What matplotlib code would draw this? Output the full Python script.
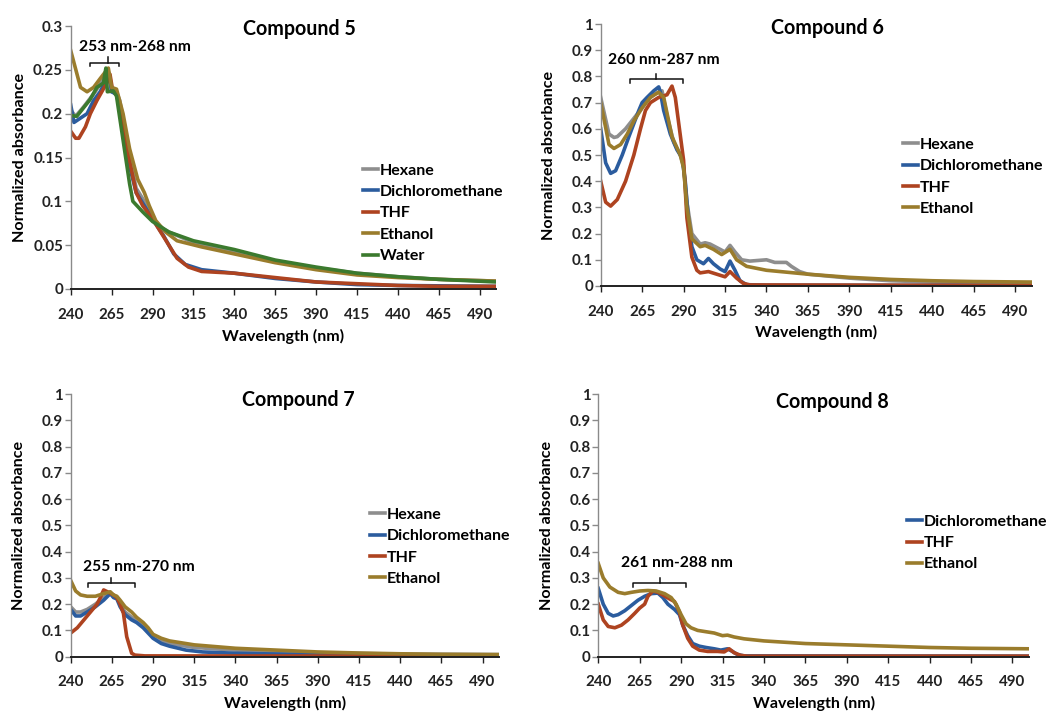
import matplotlib
matplotlib.use("Agg")
import matplotlib.pyplot as plt

plt.rcParams['font.family'] = ['Lato', 'DejaVu Sans']
plt.rcParams['font.weight'] = 'bold'

# ---------------- Data ----------------
# Compound 5
c5_hex_x = [240, 243, 248, 255, 260, 263, 265, 268, 270, 275, 280, 285, 290, 295, 300, 315, 340, 365, 390, 415, 440, 465, 500]
c5_hex_y = [0.204, 0.197, 0.208, 0.225, 0.240, 0.248, 0.225, 0.225, 0.215, 0.160, 0.115, 0.100, 0.080, 0.070, 0.065, 0.053, 0.043, 0.032, 0.024, 0.018, 0.014, 0.011, 0.009]
c5_dcm_x = [240, 242, 250, 254, 258, 262, 263.5, 265, 268, 272, 276, 280, 285, 290, 297, 303, 310, 320, 340, 365, 390, 415, 440, 500]
c5_dcm_y = [0.210, 0.190, 0.200, 0.215, 0.225, 0.240, 0.245, 0.225, 0.222, 0.190, 0.140, 0.110, 0.095, 0.080, 0.060, 0.040, 0.028, 0.022, 0.018, 0.012, 0.008, 0.005, 0.004, 0.003]
c5_thf_x = [240, 243, 245, 249, 252, 256, 259, 262, 264, 265.5, 268, 271, 275, 280, 284, 290, 295, 300, 305, 312, 320, 340, 365, 390, 415, 440, 465, 500]
c5_thf_y = [0.180, 0.172, 0.172, 0.185, 0.200, 0.215, 0.225, 0.235, 0.245, 0.228, 0.225, 0.200, 0.155, 0.110, 0.095, 0.080, 0.065, 0.050, 0.035, 0.025, 0.020, 0.018, 0.013, 0.008, 0.006, 0.004, 0.003, 0.003]
c5_eth_x = [240, 246, 250, 254, 258, 263, 265, 268, 272, 276, 281, 285, 288, 292, 298, 305, 320, 340, 365, 390, 415, 440, 465, 500]
c5_eth_y = [0.272, 0.230, 0.225, 0.230, 0.240, 0.252, 0.230, 0.228, 0.200, 0.160, 0.125, 0.110, 0.095, 0.078, 0.065, 0.055, 0.048, 0.040, 0.030, 0.022, 0.016, 0.013, 0.011, 0.009]
c5_wat_x = [240, 243.7, 251.8, 256, 260, 261.5, 262.4, 266, 268, 272, 276, 278, 284, 290, 300, 315, 340, 365, 390, 415, 440, 465, 500]
c5_wat_y = [0.198, 0.197, 0.216, 0.230, 0.235, 0.252, 0.225, 0.226, 0.220, 0.170, 0.120, 0.100, 0.088, 0.077, 0.065, 0.055, 0.045, 0.033, 0.025, 0.018, 0.014, 0.011, 0.008]

# Compound 6
c6_hex_x = [240, 245, 248, 250, 255, 260, 265, 268, 272, 275, 277, 280, 284, 288, 290, 292, 295, 300, 303, 306, 312, 315, 318, 321, 325, 330, 340, 345, 352, 355, 360, 365, 390, 415, 440, 465, 500]
c6_hex_y = [0.720, 0.580, 0.567, 0.570, 0.600, 0.640, 0.680, 0.710, 0.730, 0.740, 0.745, 0.650, 0.550, 0.500, 0.460, 0.320, 0.200, 0.160, 0.165, 0.160, 0.140, 0.130, 0.155, 0.130, 0.100, 0.095, 0.100, 0.090, 0.090, 0.075, 0.055, 0.045, 0.030, 0.020, 0.015, 0.012, 0.010]
c6_dcm_x = [240, 243, 246, 249, 253, 257, 260, 263, 265, 268, 272, 275, 276, 278, 282, 286, 289, 291, 293, 295, 298, 302, 305, 308, 312, 315, 318, 321, 324, 328, 340, 500]
c6_dcm_y = [0.600, 0.470, 0.430, 0.440, 0.500, 0.570, 0.620, 0.670, 0.700, 0.720, 0.745, 0.760, 0.740, 0.670, 0.580, 0.520, 0.490, 0.400, 0.250, 0.150, 0.100, 0.085, 0.105, 0.085, 0.065, 0.055, 0.095, 0.060, 0.020, 0.005, 0.003, 0.002]
c6_thf_x = [240, 243, 246, 250, 255, 260, 264, 267, 270, 275, 280, 283, 285, 287.5, 290, 292, 295, 298, 300, 305, 310, 315, 318, 322, 326, 330, 500]
c6_thf_y = [0.400, 0.320, 0.305, 0.330, 0.400, 0.500, 0.600, 0.670, 0.700, 0.720, 0.730, 0.763, 0.720, 0.600, 0.480, 0.260, 0.110, 0.060, 0.050, 0.055, 0.045, 0.035, 0.055, 0.030, 0.010, 0.004, 0.002]
c6_eth_x = [240, 245, 248, 252, 256, 260, 265, 270, 275, 278, 283, 288, 290, 292, 295, 300, 303, 308, 313, 318, 322, 328, 340, 365, 390, 415, 440, 465, 500]
c6_eth_y = [0.700, 0.540, 0.525, 0.540, 0.580, 0.630, 0.680, 0.720, 0.740, 0.720, 0.570, 0.500, 0.450, 0.300, 0.180, 0.150, 0.155, 0.140, 0.120, 0.140, 0.100, 0.075, 0.060, 0.045, 0.033, 0.025, 0.020, 0.017, 0.015]

# Compound 7
c7_hex_x = [240, 243, 246, 250, 255, 260, 264, 266, 268, 270, 273, 277, 280, 284, 287, 290, 295, 300, 315, 340, 365, 390, 415, 440, 500]
c7_hex_y = [0.190, 0.170, 0.170, 0.180, 0.200, 0.225, 0.245, 0.230, 0.225, 0.200, 0.170, 0.150, 0.140, 0.120, 0.100, 0.075, 0.060, 0.050, 0.035, 0.025, 0.018, 0.014, 0.012, 0.010, 0.008]
c7_dcm_x = [240, 243, 246, 250, 255, 260, 264, 266, 268, 270, 273, 277, 280, 284, 287, 290, 295, 300, 310, 320, 340, 365, 390, 440, 500]
c7_dcm_y = [0.180, 0.155, 0.155, 0.170, 0.190, 0.215, 0.240, 0.225, 0.220, 0.190, 0.160, 0.140, 0.130, 0.110, 0.090, 0.070, 0.050, 0.040, 0.025, 0.018, 0.013, 0.010, 0.008, 0.006, 0.005]
c7_thf_x = [240, 244, 248, 252, 256, 258, 260, 263, 266, 268, 270, 272, 274, 277, 279, 285, 500]
c7_thf_y = [0.090, 0.110, 0.140, 0.170, 0.200, 0.225, 0.254, 0.245, 0.235, 0.225, 0.200, 0.165, 0.076, 0.013, 0.006, 0.003, 0.002]
c7_eth_x = [240, 243, 246, 250, 255, 260, 264, 266, 268, 270, 273, 277, 280, 284, 287, 290, 295, 300, 315, 340, 365, 390, 415, 440, 465, 500]
c7_eth_y = [0.290, 0.250, 0.235, 0.230, 0.230, 0.240, 0.247, 0.235, 0.230, 0.215, 0.190, 0.170, 0.150, 0.130, 0.110, 0.085, 0.070, 0.060, 0.045, 0.032, 0.025, 0.018, 0.014, 0.011, 0.009, 0.008]

# Compound 8
c8_dcm_x = [240, 243, 246, 249, 252, 256, 260, 264, 268, 272, 276, 279, 282, 286, 289, 291, 294, 297, 301, 305, 310, 314, 318, 321, 324, 328, 500]
c8_dcm_y = [0.260, 0.200, 0.165, 0.155, 0.160, 0.175, 0.195, 0.215, 0.230, 0.240, 0.242, 0.225, 0.200, 0.180, 0.160, 0.120, 0.080, 0.050, 0.040, 0.035, 0.030, 0.025, 0.030, 0.020, 0.008, 0.003, 0.002]
c8_thf_x = [240, 243, 246, 250, 254, 258, 262, 265, 268, 270, 273, 276, 279, 283, 286, 289, 291, 294, 297, 301, 306, 312, 316, 319, 322, 326, 330, 500]
c8_thf_y = [0.200, 0.140, 0.115, 0.110, 0.120, 0.140, 0.165, 0.185, 0.200, 0.230, 0.250, 0.245, 0.235, 0.220, 0.210, 0.170, 0.120, 0.070, 0.040, 0.025, 0.020, 0.020, 0.018, 0.030, 0.015, 0.005, 0.002, 0.002]
c8_eth_x = [240, 243, 247, 252, 256, 260, 265, 270, 275, 280, 284, 287, 290, 293, 296, 300, 305, 310, 315, 318, 322, 328, 340, 365, 390, 415, 440, 465, 500]
c8_eth_y = [0.355, 0.300, 0.265, 0.245, 0.240, 0.245, 0.250, 0.252, 0.250, 0.240, 0.225, 0.200, 0.160, 0.125, 0.110, 0.100, 0.095, 0.090, 0.080, 0.082, 0.075, 0.068, 0.060, 0.050, 0.045, 0.040, 0.035, 0.032, 0.030]

x_ticks = [240, 265, 290, 315, 340, 365, 390, 415, 440, 465, 490]

COL = {
    'Hexane': '#8E8E8E',
    'Dichloromethane': '#2B5C9E',
    'THF': '#AE4320',
    'Ethanol': '#9A7C2C',
    'Water': '#3B7A2E',
}


def size_for(s, target_px):
    f = plt.figure(dpi=100)
    r = f.canvas.get_renderer()
    t = f.text(0, 0, s, fontsize=10, fontweight='bold')
    w = t.get_window_extent(r).width
    plt.close(f)
    return 10.0 * target_px / w


FS_TICK = size_for('490', 26.5)
FS_LEG = size_for('Dichloromethane', 124)
FS_TITLE = size_for('Compound 5', 113)
FS_ANN = size_for('253 nm-268 nm', 112)
FS_XLAB = size_for('Wavelength (nm)', 122)
FS_YLAB = size_for('Normalized absorbance', 170)

panels = [
    dict(rect=[0.0669, 0.5947, 0.4024, 0.3688], title='Compound 5', tpos=(0.537, 0.987),
         ylim=0.3, yticks=[0, 0.05, 0.1, 0.15, 0.2, 0.25, 0.3],
         series=[('Hexane', c5_hex_x, c5_hex_y), ('Dichloromethane', c5_dcm_x, c5_dcm_y),
                 ('THF', c5_thf_x, c5_thf_y), ('Ethanol', c5_eth_x, c5_eth_y),
                 ('Water', c5_wat_x, c5_wat_y)],
         leg=(0.687, 0.477), ann='253 nm-268 nm', tx=(279.5, 0.276),
         br=(251.8, 269.5, 0.258, 0.254, 263.0, 0.265)),
    dict(rect=[0.5683, 0.5989, 0.4078, 0.3674], title='Compound 6', tpos=(0.527, 0.983),
         ylim=1.0, yticks=[0, 0.1, 0.2, 0.3, 0.4, 0.5, 0.6, 0.7, 0.8, 0.9, 1],
         series=[('Hexane', c6_hex_x, c6_hex_y), ('Dichloromethane', c6_dcm_x, c6_dcm_y),
                 ('THF', c6_thf_x, c6_thf_y), ('Ethanol', c6_eth_x, c6_eth_y)],
         leg=(0.701, 0.566), ann='260 nm-287 nm', tx=(278, 0.862),
         br=(257.7, 289.9, 0.791, 0.776, 273.4, 0.809)),
    dict(rect=[0.0669, 0.0790, 0.4052, 0.3684], title='Compound 7', tpos=(0.531, 0.976),
         ylim=1.0, yticks=[0, 0.1, 0.2, 0.3, 0.4, 0.5, 0.6, 0.7, 0.8, 0.9, 1],
         series=[('Hexane', c7_hex_x, c7_hex_y), ('Dichloromethane', c7_dcm_x, c7_dcm_y),
                 ('THF', c7_thf_x, c7_thf_y), ('Ethanol', c7_eth_x, c7_eth_y)],
         leg=(0.699, 0.567), ann='255 nm-270 nm', tx=(281.4, 0.343),
         br=(250.3, 279.0, 0.279, 0.264, 264.4, 0.298)),
    dict(rect=[0.5660, 0.0790, 0.4075, 0.3684], title='Compound 8', tpos=(0.543, 0.968),
         ylim=1.0, yticks=[0, 0.1, 0.2, 0.3, 0.4, 0.5, 0.6, 0.7, 0.8, 0.9, 1],
         series=[('Dichloromethane', c8_dcm_x, c8_dcm_y),
                 ('THF', c8_thf_x, c8_thf_y), ('Ethanol', c8_eth_x, c8_eth_y)],
         leg=(0.717, 0.541), ann='261 nm-288 nm', tx=(287.7, 0.356),
         br=(261.1, 292.7, 0.282, 0.266, 277.2, 0.298)),
]

fig = plt.figure(figsize=(10.57, 7.13), dpi=100)

for p in panels:
    ax = fig.add_axes(p['rect'])
    for name, xs, ys in p['series']:
        ax.plot(xs, ys, color=COL[name], lw=2.6, label=name, solid_joinstyle='round')
    ax.set_xlim(240, 500)
    ax.set_ylim(0, p['ylim'])
    ax.set_xticks(x_ticks)
    ax.set_yticks(p['yticks'])
    ax.set_yticklabels([('%g' % v) for v in p['yticks']])
    for s in ['top', 'right']:
        ax.spines[s].set_visible(False)
    ax.spines['left'].set_color('#8a8a8a')
    ax.spines['left'].set_linewidth(1.0)
    ax.spines['bottom'].set_color('#202020')
    ax.spines['bottom'].set_linewidth(1.4)
    ax.tick_params(axis='both', direction='out', length=4.0, width=1.0,
                   labelsize=FS_TICK, colors='#222222')
    ax.tick_params(axis='x', pad=9.5)
    ax.tick_params(axis='y', color='#8a8a8a', pad=1.5)
    for lab in ax.get_xticklabels() + ax.get_yticklabels():
        lab.set_fontweight('bold')
    ax.set_xlabel('Wavelength (nm)', fontsize=FS_XLAB, fontweight='bold', va='center')
    ax.xaxis.set_label_coords(0.5, -0.179)
    ax.set_ylabel('Normalized absorbance', fontsize=FS_YLAB, fontweight='bold', va='center')
    ax.yaxis.set_label_coords(-0.12, 0.5)
    ax.text(p['tpos'][0], p['tpos'][1], p['title'], transform=ax.transAxes,
            ha='center', va='center', fontsize=FS_TITLE, fontweight='bold')
    ax.legend(loc='upper left', bbox_to_anchor=p['leg'], frameon=False,
              handlelength=0.95, handletextpad=0.08,
              labelspacing=0.45, borderaxespad=0, borderpad=0,
              prop={'weight': 'bold', 'size': FS_LEG})
    # bracket annotation
    x0, x1, yb, ye, xc, yc = p['br']
    ax.plot([x0, x0, x1, x1], [ye, yb, yb, ye], color='#111111', lw=1.1)
    ax.plot([xc, xc], [yb, yc], color='#111111', lw=1.1)
    ax.text(p['tx'][0], p['tx'][1], p['ann'], ha='center', va='center',
            fontsize=FS_ANN, fontweight='bold')

fig.savefig('out.png', dpi=100)
